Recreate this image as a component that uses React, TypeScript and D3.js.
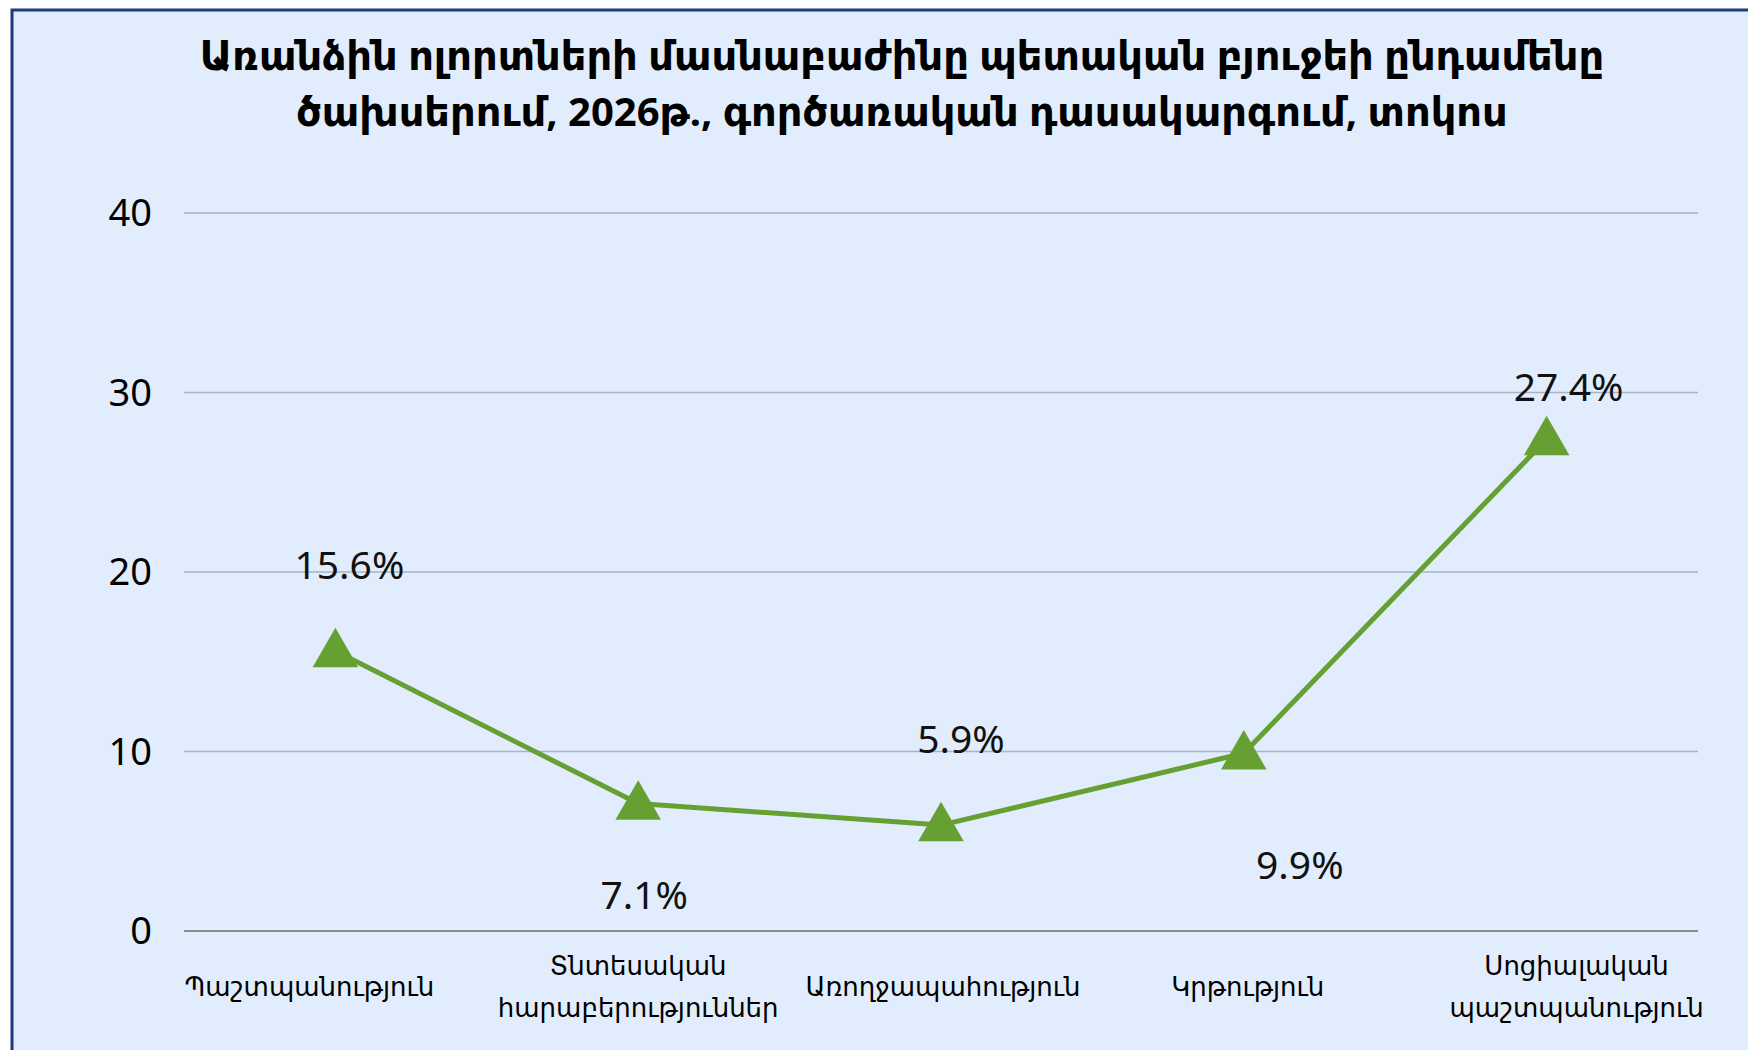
import * as d3 from "d3";
import React, { useEffect } from "react";

const categories = [
  ["Պաշտպանություն"],
  ["Տնտեսական", "հարաբերություններ"],
  ["Առողջապահություն"],
  ["Կրթություն"],
  ["Սոցիալական", "պաշտպանություն"],
];
const shares = [15.6, 7.1, 5.9, 9.9, 27.4];
const labelSide = ["above", "below", "above", "below", "above"];
const yTicks = [0, 10, 20, 30, 40];
const titleLines = [
  "Առանձին ոլորտների մասնաբաժինը պետական բյուջեի ընդամենը",
  "ծախսերում, 2026թ., գործառական դասակարգում, տոկոս",
];

// hand placement of the value labels, as in the source chart
const labelNudge = [
  [14, 86],
  [6, 92],
  [20, 86],
  [56, 112],
  [22, 52],
];
const catNudge = [-26, 0, 2, 4, 30];

const W = 1748;
const H = 1050;
const FONT = "'Noto Sans', 'DejaVu Sans', sans-serif";
const GREEN = "#67A032";

const App = () => {
  useEffect(() => {
    document.body.style.margin = "0";
  }, []);

  const margin = { top: 213, right: 50, bottom: 119, left: 184 };
  const x = d3
    .scaleBand()
    .domain(categories.map((c) => c.join(" ")))
    .range([margin.left, W - margin.right]);
  const y = d3
    .scaleLinear()
    .domain([0, 40])
    .range([H - margin.bottom, margin.top]);

  const cx = (i: number) => (x(categories[i].join(" ")) as number) + x.bandwidth() / 2;

  const line = d3
    .line<number>()
    .x((_, i) => cx(i))
    .y((d) => y(d));

  const tri = d3.symbol().type(d3.symbolTriangle).size(900)();

  return (
    <svg width={W} height={H} style={{ display: "block" }} fontFamily={FONT}>
      <rect x={0} y={0} width={W} height={H} fill="#ffffff" />
      <rect x={12} y={10} width={W + 20} height={H + 20} fill="#E1EDFC" stroke="#1C3B80" strokeWidth={3} />

      {titleLines.map((t, i) => (
        <text
          key={i}
          x={902}
          y={70 + i * 56}
          textAnchor="middle"
          fontSize={40}
          fontWeight="bold"
          fill="#000"
        >
          {t}
        </text>
      ))}

      {yTicks.map((t) => (
        <g key={t}>
          <line
            x1={margin.left}
            x2={W - margin.right}
            y1={y(t)}
            y2={y(t)}
            stroke={t === 0 ? "#8C8C8C" : "#A8B3C3"}
            strokeWidth={t === 0 ? 2 : 1.3}
          />
          <text x={152} y={y(t)} dy="0.35em" textAnchor="end" fontSize={38} fill="#000">
            {t}
          </text>
        </g>
      ))}

      {categories.map((c, i) => (
        <text key={i} textAnchor="middle" fontSize={26} fill="#000">
          {c.map((ln, j) => (
            <tspan key={j} x={cx(i) + catNudge[i]} y={(c.length === 1 ? 996 : 975) + j * 42}>
              {ln}
            </tspan>
          ))}
        </text>
      ))}

      <path d={line(shares) || ""} fill="none" stroke={GREEN} strokeWidth={5} strokeLinejoin="round" />

      {shares.map((v, i) => (
        <path key={i} d={tri || ""} transform={`translate(${cx(i)},${y(v) + 3})`} fill={GREEN} />
      ))}

      {shares.map((v, i) => (
        <text
          key={i}
          x={cx(i) + labelNudge[i][0]}
          y={y(v) + (labelSide[i] === "above" ? -1 : 1) * labelNudge[i][1]}
          dy="0.35em"
          textAnchor="middle"
          fontSize={39}
          fill="#111"
        >
          {v.toFixed(1)}%
        </text>
      ))}
    </svg>
  );
};

export default App;
